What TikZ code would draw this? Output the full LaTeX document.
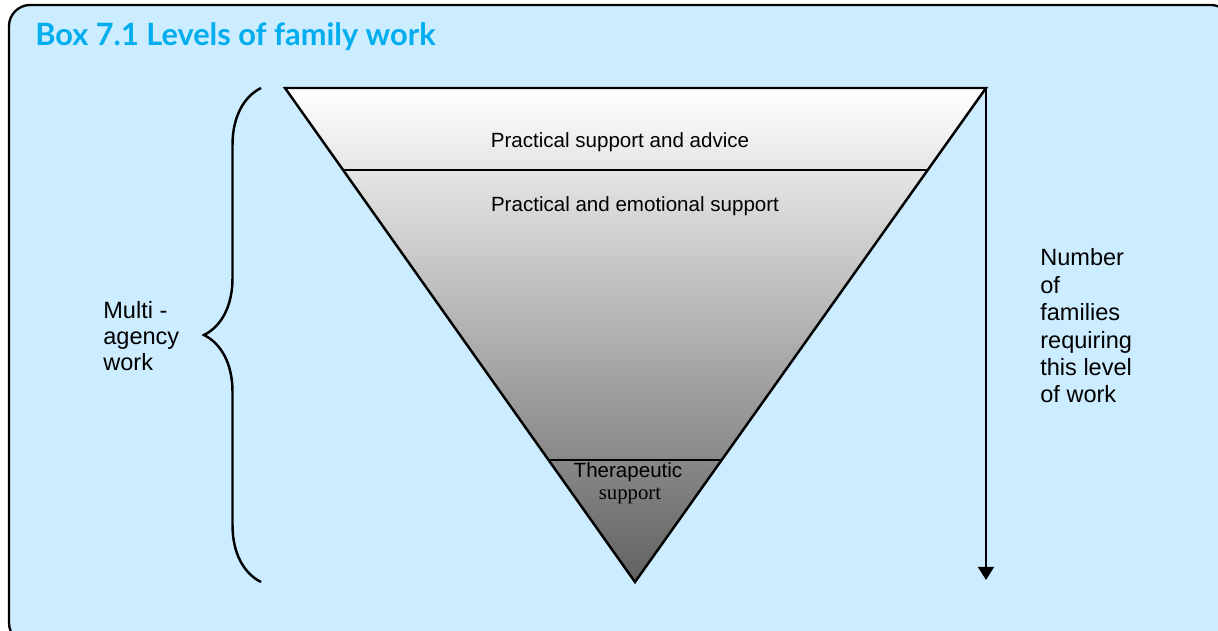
\documentclass[tikz,border=0pt]{standalone}
\usepackage{fontspec}
\setmainfont{Liberation Sans}
\newfontfamily\titlefont{Lato}
\newfontfamily\serifpart{Liberation Serif}
\usetikzlibrary{arrows.meta}
\usetikzlibrary{decorations.pathreplacing}

\definecolor{boxblue}{RGB}{204,236,255}
\definecolor{titleblue}{RGB}{0,174,239}

\tikzset{
  lbl/.style={font=\fontsize{11.7}{13}\selectfont, inner sep=0pt},
  sidelbl/.style={font=\fontsize{13.4}{15}\selectfont, align=left, inner sep=0pt},
  edge/.style={line width=1.4pt, black}
}

\begin{document}
\begin{tikzpicture}[x=0.02cm,y=-0.02cm]
\useasboundingbox (0,0) rectangle (1218,630);
\fill[white] (0,0) rectangle (1218,630);
\draw[line width=1.3pt, fill=boxblue, rounded corners=12] (9,5) rectangle (1232,644);

% title
\node[anchor=west, inner sep=0pt, text=titleblue] (title) at (35,37)
  {\titlefont\bfseries\fontsize{17.5}{19}\selectfont Box 7.1 Levels of family work};

% triangle
\coordinate (tl) at (285,88);
\coordinate (tr) at (986,88);
\coordinate (apex) at (635,582);
\coordinate (l1) at (343,170);
\coordinate (r1) at (927,170);
\coordinate (l2) at (548.6,460);
\coordinate (r2) at (721.7,460);

\shade[top color=white, bottom color=black!62] (tl) -- (tr) -- (apex) -- cycle;
\draw[edge, line join=miter] (tl) -- (tr) -- (apex) -- cycle;
\draw[edge] (l1) -- (r1);
\draw[edge] (l2) -- (r2);

\node[lbl] (advice) at (620,142) {Practical support and advice};
\node[lbl] (emotional) at (635,206) {Practical and emotional support};
\node[lbl] (therapy) at (628,472) {Therapeutic};
\node[inner sep=0pt, font=\serifpart\fontsize{11.8}{13}\selectfont] (therapy2) at (630,496) {support};

% number arrow
\coordinate (arrtop) at (986,88);
\coordinate (arrbot) at (986,580);
\draw[edge, -{Triangle[length=7.5pt,width=9pt]}] (arrtop) -- (arrbot);
\node[sidelbl, anchor=west, font=\fontsize{13.4}{15.6}\selectfont] (number) at (1040,326)
  {Number\\of\\families\\requiring\\this level\\of work};

% brace
\coordinate (btop) at (261,88);
\coordinate (bbot) at (261,582);
\draw[edge, decorate, decoration={brace, amplitude=1.14cm}] (bbot) -- (btop);
\node[sidelbl, anchor=west] (multi) at (103,336) {Multi -\\agency\\work};

\end{tikzpicture}
\end{document}
